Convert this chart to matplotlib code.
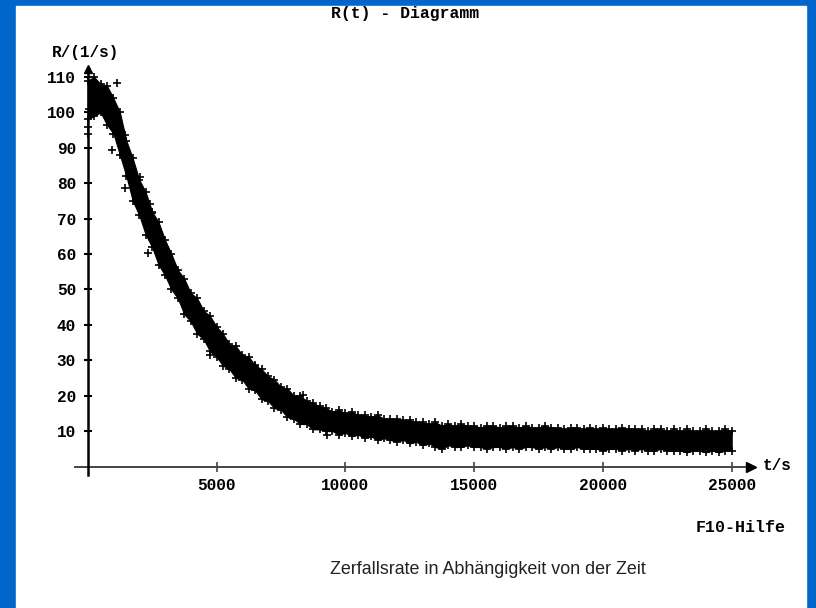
import numpy as np
import matplotlib
matplotlib.use("Agg")
import matplotlib.pyplot as plt
from matplotlib.patches import Rectangle

# --- data (rate in 1/s, time in s) ---
# measurement band: envelope of the plotted points, sampled every 250 s
t_grid = np.arange(0, 25001, 250)
r_upper = [109, 110, 108, 107.5, 104, 100, 92, 87, 81, 77.5,
           72, 69, 64, 60, 55.5, 53, 49, 47.5, 44, 42.5,
           39.5, 37.5, 34.5, 34, 31.5, 31, 28.5, 27.5, 25.5, 24.5,
           22.5, 22, 20, 20, 18.5, 18, 17, 16.5, 15.5, 16,
           15, 15.5, 14.5, 14.5, 14, 14.5, 13.5, 13.5, 13.5, 13,
           13, 12.5, 12.5, 12, 12.5, 11.5, 12, 11.5, 12, 11.5,
           11.5, 11, 11.5, 11.5, 11, 11.5, 11.5, 11, 11.5, 11,
           11, 11.5, 11, 11, 10.5, 11, 11, 10.5, 11, 10.5,
           11, 10.5, 10.5, 11, 10.5, 10.5, 10.5, 10, 10.5, 10.5,
           10, 10.5, 10, 10.5, 10, 10, 10.5, 10, 10, 10.5,
           10]
r_lower = [98, 99, 100, 96.5, 94, 88, 82, 75, 71, 65.5,
           62, 57, 54, 50, 47.5, 43, 41, 37.5, 36, 32.5,
           31, 28.5, 27.5, 25, 24.5, 22, 21.5, 19, 18.5, 16.5,
           16, 14, 13.5, 12, 12, 10.5, 10.5, 10, 10, 9,
           9.5, 8.5, 9, 8, 8.5, 7.5, 8, 7.5, 7, 7.5,
           6.5, 7, 6, 6.5, 5.5, 5, 6, 5.5, 5.5, 6,
           5.5, 5.5, 5, 5.5, 5.5, 5, 5.5, 5, 5.5, 5.5,
           5, 5.5, 5, 5.5, 5, 5, 5.5, 5, 5, 5,
           4.5, 5, 5, 4.5, 5, 4.5, 5, 4.5, 4.5, 5,
           4.5, 4.5, 4.5, 4, 4.5, 4.5, 4, 4.5, 4, 4.5,
           4.5]

# single points sticking out of the band
out_t = [10, 30, 60, 930, 1125, 1180, 1450, 1450, 2030, 2340, 2420, 2480,
         4750, 6500, 7850, 8370, 9280]
out_r = [96, 94, 101, 89.4, 108.4, 98, 93.6, 78.7, 81.8, 60.3, 74, 71.6,
         31.5, 28.7, 14.5, 20.2, 8.9]

x_ticks = [5000, 10000, 15000, 20000, 25000]
y_ticks = [10, 20, 30, 40, 50, 60, 70, 80, 90, 100, 110]

W, H = 816, 608
def fx(x):
    return x / W
def fy(y):
    return 1 - y / H

mono = "Liberation Mono"
blue = "#0066CC"
fs = 11.6

fig = plt.figure(figsize=(W / 100, H / 100), dpi=100, facecolor=blue)
fig.patches.append(Rectangle((fx(16), 0), fx(806) - fx(16), fy(6),
                             transform=fig.transFigure, color="white", zorder=-10))

# axes placed so that t=0..25000 -> px 87.7..731.7 and R=0..110 -> px 466.5..77
ax = fig.add_axes([fx(87.7), fy(466.5), fx(731.7) - fx(87.7), fy(77) - fy(466.5)])
ax.set_zorder(5)
ax.set_facecolor("none")
ax.set_xlim(0, 25000)
ax.set_ylim(0, 110)
for s in ax.spines.values():
    s.set_visible(False)

# data band
ax.fill_between(t_grid, r_lower, r_upper, color="black", lw=0.8, clip_on=False)
ax.plot(t_grid, r_upper, "+", color="black", ms=5.5, mew=1.2, clip_on=False)
ax.plot(t_grid, r_lower, "+", color="black", ms=5.5, mew=1.2, clip_on=False)
ax.plot(out_t, out_r, "+", color="black", ms=6, mew=1.2, clip_on=False)

# axis lines with arrows
ax.plot([-490, 25700], [0, 0], color="#444444", lw=1.4, clip_on=False)
ax.plot([25750], [0], marker=">", color="black", ms=7, clip_on=False)
ax.plot([0, 0], [-2.5, 111.5], color="black", lw=1.8, clip_on=False)
ax.plot([0], [112.3], marker="^", color="black", ms=6, clip_on=False)

ax.set_xticks(x_ticks)
ax.set_xticklabels([str(v) for v in x_ticks], fontfamily=mono,
                   fontweight="bold", fontsize=fs)
ax.set_yticks(y_ticks)
ax.set_yticklabels([str(v) for v in y_ticks], fontfamily=mono,
                   fontweight="bold", fontsize=fs)
ax.tick_params(axis="x", direction="inout", length=7, width=1.2,
               color="#444444", pad=5)
ax.tick_params(axis="y", direction="inout", length=6, width=1.5,
               color="black", pad=5.5)

# texts
fig.text(fx(405), fy(18), "R(t) - Diagramm", fontfamily=mono, fontsize=11.8,
         fontweight="bold", ha="center", va="baseline")
fig.text(fx(86), fy(53), "R/(1/s)", fontfamily=mono, fontsize=fs,
         fontweight="bold", ha="center", va="center")
fig.text(fx(763), fy(466), "t/s", fontfamily=mono, fontsize=fs,
         fontweight="bold", ha="left", va="center")
fig.text(fx(786), fy(528), "F10-Hilfe", fontfamily=mono, fontsize=12,
         fontweight="bold", ha="right", va="center")
fig.text(fx(488), fy(569), "Zerfallsrate in Abhängigkeit von der Zeit",
         fontfamily="Liberation Sans", fontsize=12.9, color="#222222",
         ha="center", va="center")

fig.savefig("out.png", dpi=100, facecolor=fig.get_facecolor())
